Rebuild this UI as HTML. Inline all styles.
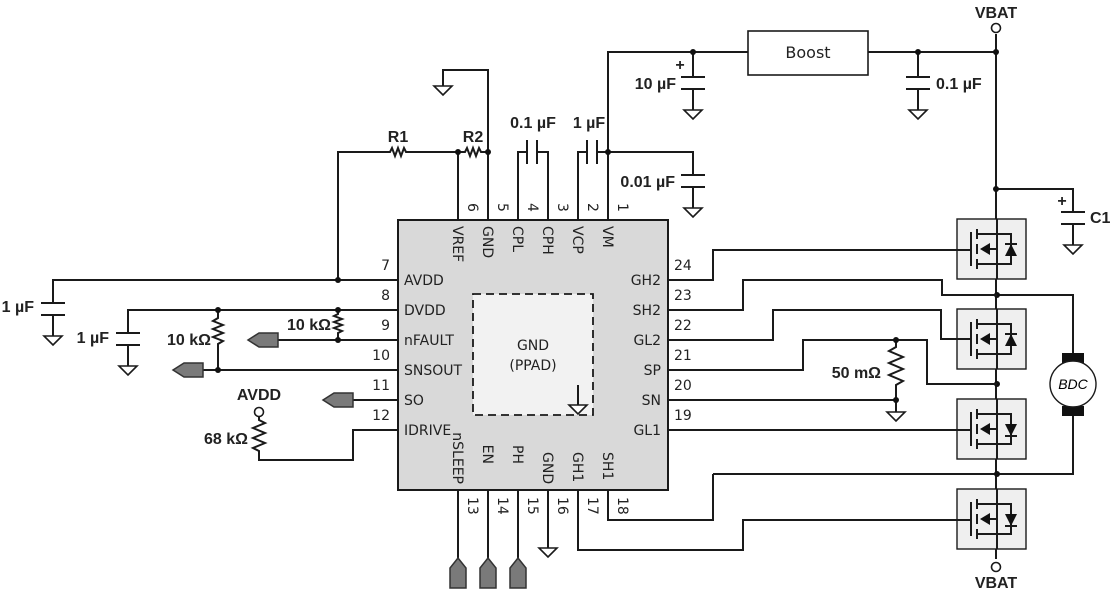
<!DOCTYPE html>
<html><head><meta charset="utf-8"><style>
body{margin:0;background:#fff}
svg{display:block}
.w{stroke:#1a1a1a;stroke-width:2;fill:none}
.b{font-family:"Liberation Sans",sans-serif;font-weight:bold;font-size:16px;fill:#222}
.p{font-family:"DejaVu Sans","Liberation Sans",sans-serif;font-size:14px;fill:#222}
.g{fill:#fff;stroke:#1a1a1a;stroke-width:1.6}
.c{fill:#7a7a7a;stroke:#333;stroke-width:1.5}
.d{fill:#111}
</style></head><body>
<svg width="1113" height="594" viewBox="0 0 1113 594" xmlns="http://www.w3.org/2000/svg">
<!-- chip -->
<rect x="398" y="220" width="270" height="270" fill="#d9d9d9" stroke="#1a1a1a" stroke-width="2"/>
<rect x="473" y="294" width="120" height="121" fill="#f2f2f2" stroke="#1a1a1a" stroke-width="1.8" stroke-dasharray="8,5"/>
<text class="p" x="533" y="350" text-anchor="middle">GND</text>
<text class="p" x="533" y="370" text-anchor="middle">(PPAD)</text>
<path class="w" d="M578,385 V405" /><path class="g" d="M569,405 H587 L578,414 Z"/>

<!-- top pins -->
<path class="w" d="M458,220 V152 M488,220 V70 H443 V86 M518,220 V152 H527 M548,220 V152 H537 M578,220 V152 H587 M608,220 V52 H748 M597,152 H693 V175"/>
<path class="g" d="M434,86 H452 L443,95 Z"/>
<path class="w" d="M527,140 V164 M537,140 V164 M587,140 V164 M597,140 V164"/>
<text class="b" x="533" y="128" text-anchor="middle">0.1 µF</text>
<text class="b" x="589" y="128" text-anchor="middle">1 µF</text>
<!-- 0.01uF -->
<path class="w" d="M681,175 H705 M681,187 H705 M693,187 V208"/><path class="g" d="M684,208 H702 L693,217 Z"/>
<text class="b" x="675" y="187" text-anchor="end">0.01 µF</text>
<!-- R1 R2 line -->
<path class="w" d="M338,280 V152 H390 l2,-4 3,8 3,-8 3,8 3,-8 2,4 H465 l2,-4 3,8 3,-8 3,8 3,-8 2,4 H488"/>
<text class="b" x="398" y="142" text-anchor="middle">R1</text>
<text class="b" x="473" y="142" text-anchor="middle">R2</text>
<circle class="d" cx="458" cy="152" r="3"/><circle class="d" cx="488" cy="152" r="3"/><circle class="d" cx="608" cy="152" r="3"/>
<!-- top numbers & names -->
<g class="p">
<text transform="translate(468,203) rotate(90)">6</text>
<text transform="translate(498,203) rotate(90)">5</text>
<text transform="translate(528,203) rotate(90)">4</text>
<text transform="translate(558,203) rotate(90)">3</text>
<text transform="translate(588,203) rotate(90)">2</text>
<text transform="translate(618,203) rotate(90)">1</text>
<text transform="translate(453,226) rotate(90)">VREF</text>
<text transform="translate(483,226) rotate(90)">GND</text>
<text transform="translate(513,226) rotate(90)">CPL</text>
<text transform="translate(543,226) rotate(90)">CPH</text>
<text transform="translate(573,226) rotate(90)">VCP</text>
<text transform="translate(603,226) rotate(90)">VM</text>
</g>
<!-- boost area -->
<rect x="748" y="31" width="120" height="44" fill="#fff" stroke="#1a1a1a" stroke-width="1.6"/>
<text x="808" y="58" text-anchor="middle" class="p" style="font-size:16px">Boost</text>
<path class="w" d="M868,52 H996 M996,34 V559 M693,52 V77 M681,77 H705 M681,89 H705 M693,89 V110 M918,52 V77 M906,77 H930 M906,89 H930 M918,89 V110 M996,189 H1073 V212 M1061,212 H1085 M1061,224 H1085 M1073,224 V245"/>
<path class="g" d="M684,110 H702 L693,119 Z"/><path class="g" d="M909,110 H927 L918,119 Z"/><path class="g" d="M1064,245 H1082 L1073,254 Z"/>
<circle class="d" cx="693" cy="52" r="3"/><circle class="d" cx="918" cy="52" r="3"/><circle class="d" cx="996" cy="52" r="3"/><circle class="d" cx="996" cy="189" r="3"/>
<text class="b" x="676" y="89" text-anchor="end">10 µF</text><text class="b" x="680" y="70" text-anchor="middle">+</text>
<text class="b" x="936" y="89">0.1 µF</text>
<text class="b" x="1090" y="223">C1</text><text class="b" x="1062" y="206" text-anchor="middle">+</text>
<circle cx="996" cy="28" r="4.5" fill="#fff" stroke="#1a1a1a" stroke-width="1.6"/>
<text class="b" x="996" y="18" text-anchor="middle">VBAT</text>
<circle cx="996" cy="567" r="4.5" fill="#fff" stroke="#1a1a1a" stroke-width="1.6"/>
<text class="b" x="996" y="588" text-anchor="middle">VBAT</text>

<!-- MOSFETs -->
<g id="m">
<rect x="957" y="219" width="69" height="60" fill="#efefef" stroke="#1a1a1a" stroke-width="1.4"/>
<path class="w" d="M971,232 V266 M977,229 V239 M977,244 V254 M977,259 V269 M977,234 H1011 V264 H977 M997,219 V279 M997,249 H987"/>
<path class="d" d="M980,249 L990,243 V255 Z"/>
</g>
<path class="d" d="M1005,256 L1017,256 L1011,244 Z"/><path class="w" d="M1005,244 H1017"/>
<use href="#m" y="90"/><path class="d" d="M1005,346 L1017,346 L1011,334 Z"/><path class="w" d="M1005,334 H1017"/>
<use href="#m" y="180"/><path class="d" d="M1005,424 L1017,424 L1011,436 Z"/><path class="w" d="M1005,436 H1017"/>
<use href="#m" y="270"/><path class="d" d="M1005,514 L1017,514 L1011,526 Z"/><path class="w" d="M1005,526 H1017"/>
<!-- motor -->
<path class="w" d="M997,295 H1073 V355 M1073,415 V474 H713"/>
<rect x="1062" y="353" width="22" height="10" fill="#111"/><rect x="1062" y="406" width="22" height="10" fill="#111"/>
<circle cx="1073" cy="384" r="23" fill="#fff" stroke="#1a1a1a" stroke-width="1.4"/>
<text x="1073" y="389" text-anchor="middle" style="font-family:'Liberation Sans',sans-serif;font-style:italic;font-size:14px">BDC</text>
<circle class="d" cx="997" cy="295" r="3"/><circle class="d" cx="997" cy="384" r="3"/><circle class="d" cx="997" cy="474" r="3"/>

<!-- right pins -->
<path class="w" d="M668,280 H713 V250 H971 M668,310 H743 V280 H942 V295 H997 M668,340 H773 V310 H941 V339 H971 M668,370 H803 V340 H927 V384 H997 M668,400 H896 V412 M668,430 H971 M608,490 V520 H713 V474 M578,490 V550 H743 V520 H971"/>
<path class="w" d="M896,340 V347 l-7,4 14,6 -14,6 14,6 -14,6 14,6 -7,4 V400"/>
<circle class="d" cx="896" cy="340" r="3"/><circle class="d" cx="896" cy="400" r="3"/>
<path class="g" d="M887,412 H905 L896,421 Z"/>
<text class="b" x="881" y="378" text-anchor="end">50 mΩ</text>
<g class="p">
<text x="674" y="270">24</text><text x="674" y="300">23</text><text x="674" y="330">22</text><text x="674" y="360">21</text><text x="674" y="390">20</text><text x="674" y="420">19</text>
<text x="661" y="285" text-anchor="end">GH2</text><text x="661" y="315" text-anchor="end">SH2</text><text x="661" y="345" text-anchor="end">GL2</text><text x="661" y="375" text-anchor="end">SP</text><text x="661" y="405" text-anchor="end">SN</text><text x="661" y="435" text-anchor="end">GL1</text>
</g>

<!-- left pins -->
<path class="w" d="M398,280 H53 V303 M41,303 H65 M41,315 H65 M53,315 V336 M398,310 H128 V333 M116,333 H140 M116,345 H140 M128,345 V366 M218,310 V318 l-5,3 10,4 -10,4 10,4 -10,4 10,4 -5,3 V370 M338,310 V314 l-4,2 8,3 -8,3 8,3 -8,3 8,3 -4,2 V340 M398,340 H278 M398,370 H203 M398,400 H353 M398,430 H353 V460 H259 V451 l-6,-3 12,-5 -12,-5 12,-5 -12,-5 12,-5 -6,-3 V417"/>
<circle class="d" cx="338" cy="280" r="3"/><circle class="d" cx="338" cy="310" r="3"/><circle class="d" cx="338" cy="340" r="3"/><circle class="d" cx="218" cy="310" r="3"/><circle class="d" cx="218" cy="370" r="3"/>
<path class="g" d="M44,336 H62 L53,345 Z"/><path class="g" d="M119,366 H137 L128,375 Z"/>
<path class="c" d="M248,340 L259,333 H278 V347 H259 Z"/>
<path class="c" d="M173,370 L184,363 H203 V377 H184 Z"/>
<path class="c" d="M323,400 L334,393 H353 V407 H334 Z"/>
<circle cx="259" cy="412" r="4.5" fill="#fff" stroke="#1a1a1a" stroke-width="1.6"/>
<text class="b" x="259" y="400" text-anchor="middle">AVDD</text>
<text class="b" x="248" y="444" text-anchor="end">68 kΩ</text>
<text class="b" x="211" y="345" text-anchor="end">10 kΩ</text>
<text class="b" x="331" y="330" text-anchor="end">10 kΩ</text>
<text class="b" x="34" y="312" text-anchor="end">1 µF</text>
<text class="b" x="109" y="343" text-anchor="end">1 µF</text>
<g class="p">
<text x="390" y="270" text-anchor="end">7</text><text x="390" y="300" text-anchor="end">8</text><text x="390" y="330" text-anchor="end">9</text><text x="390" y="360" text-anchor="end">10</text><text x="390" y="390" text-anchor="end">11</text><text x="390" y="420" text-anchor="end">12</text>
<text x="404" y="285">AVDD</text><text x="404" y="315">DVDD</text><text x="404" y="345">nFAULT</text><text x="404" y="375">SNSOUT</text><text x="404" y="405">SO</text><text x="404" y="435">IDRIVE</text>
</g>

<!-- bottom pins -->
<path class="w" d="M458,490 V558 M488,490 V558 M518,490 V558 M548,490 V548"/>
<path class="g" d="M539,548 H557 L548,557 Z"/>
<path class="c" d="M458,558 L466,568 V588 H450 V568 Z"/>
<path class="c" d="M488,558 L496,568 V588 H480 V568 Z"/>
<path class="c" d="M518,558 L526,568 V588 H510 V568 Z"/>
<g class="p">
<text transform="translate(468,497) rotate(90)">13</text><text transform="translate(498,497) rotate(90)">14</text><text transform="translate(528,497) rotate(90)">15</text><text transform="translate(558,497) rotate(90)">16</text><text transform="translate(588,497) rotate(90)">17</text><text transform="translate(618,497) rotate(90)">18</text>
<text transform="translate(453,484) rotate(90)" text-anchor="end">nSLEEP</text><text transform="translate(483,464) rotate(90)" text-anchor="end">EN</text><text transform="translate(513,464) rotate(90)" text-anchor="end">PH</text><text transform="translate(543,452) rotate(90)">GND</text><text transform="translate(573,452) rotate(90)">GH1</text><text transform="translate(603,452) rotate(90)">SH1</text>
</g>
</svg>
</body></html>
